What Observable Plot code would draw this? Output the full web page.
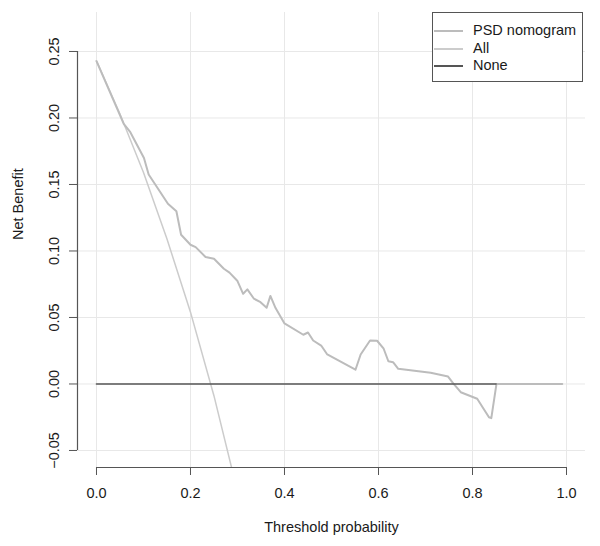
<!DOCTYPE html>
<html><head><meta charset="utf-8">
<script src="https://cdn.jsdelivr.net/npm/d3@7"></script>
<script src="https://cdn.jsdelivr.net/npm/@observablehq/plot@0.6"></script>
<style>
body{margin:0;background:#fff;}
#wrap{position:relative;width:600px;height:546px;font-family:"Liberation Sans",Arial,Helvetica,sans-serif;}
#legend{position:absolute;left:432px;top:12px;width:151px;height:70px;border:1px solid #555;box-sizing:border-box;background:#fff;font-size:14.5px;color:#1a1a1a;}
.lrow{position:absolute;left:0;height:17px;line-height:17px;white-space:nowrap;}
.lrow .sw{position:absolute;left:1px;top:8px;width:29px;height:0;border-top-style:solid;}
.lrow .lt{position:absolute;left:40px;top:0;}
</style></head><body><div id="wrap"></div>
<script>
// PSD nomogram net benefit curve
const psdX = [0, 0.058, 0.072, 0.101, 0.111, 0.152, 0.170, 0.180, 0.200, 0.211, 0.232, 0.250, 0.271, 0.283, 0.300, 0.312, 0.321, 0.335, 0.349, 0.362, 0.370, 0.381, 0.400, 0.440, 0.450, 0.461, 0.478, 0.491, 0.551, 0.562, 0.582, 0.597, 0.611, 0.621, 0.631, 0.642, 0.711, 0.748, 0.759, 0.775, 0.810, 0.835, 0.840, 0.851, 0.991];
const psdY = [0.2427, 0.1956, 0.1893, 0.1699, 0.1575, 0.1355, 0.1299, 0.1122, 0.1047, 0.1029, 0.0955, 0.0941, 0.0866, 0.0837, 0.0774, 0.0678, 0.0711, 0.0641, 0.0615, 0.0573, 0.0662, 0.0571, 0.0455, 0.0370, 0.0387, 0.0327, 0.0289, 0.0222, 0.0107, 0.0222, 0.0327, 0.0325, 0.0265, 0.0171, 0.0164, 0.0114, 0.0084, 0.0056, 0.0004, -0.0062, -0.0111, -0.0250, -0.0257, 0, 0];
// Treat-all curve
const allX = [0, 0.05, 0.10, 0.15, 0.20, 0.25, 0.30];
const allY = [0.243, 0.203, 0.159, 0.109, 0.054, -0.009, -0.081];
// Treat-none line
const noneX = [0, 0.85];
const noneY = [0, 0];

const seriesNames = ["PSD nomogram", "All", "None"];
const seriesColors = ["#bcbcbc", "#cccccc", "#555555"];
const xTicks = [0, 0.2, 0.4, 0.6, 0.8, 1.0];
const yTicks = [-0.05, 0, 0.05, 0.10, 0.15, 0.20, 0.25];

const psd = psdX.map((x, i) => ({x, y: psdY[i]}));
const all = allX.map((x, i) => ({x, y: allY[i]}));
const none = noneX.map((x, i) => ({x, y: noneY[i]}));

const xDom = [-0.0404, 1.0404];
const yDom = [-0.0628, 0.2793];
const font = '"Liberation Sans", Arial, Helvetica, sans-serif';

const chart = Plot.plot({
  width: 600, height: 546,
  marginLeft: 77, marginRight: 15, marginTop: 12, marginBottom: 79,
  style: {fontFamily: font, fontSize: "14.5px", background: "#fff", color: "#1a1a1a"},
  x: {domain: xDom},
  y: {domain: yDom},
  marks: [
    Plot.gridX(xTicks, {stroke: "#e8e8e8", strokeOpacity: 1, strokeWidth: 1}),
    Plot.gridY(yTicks, {stroke: "#e8e8e8", strokeOpacity: 1, strokeWidth: 1}),
    Plot.line(all, {x: "x", y: "y", stroke: seriesColors[1], strokeWidth: 1.5, clip: true}),
    Plot.line(psd, {x: "x", y: "y", stroke: seriesColors[0], strokeWidth: 2, clip: true}),
    Plot.line(none, {x: "x", y: "y", stroke: seriesColors[2], strokeWidth: 1.6}),
    Plot.axisX(xTicks, {anchor: "bottom", tickSize: 8, tickPadding: 12, tickFormat: d3.format(".1f"), label: null, stroke: "#555", fill: "#1a1a1a", fontSize: 14.5}),
    Plot.ruleY([yDom[0]], {x1: xTicks[0], x2: xTicks[xTicks.length - 1], stroke: "#555", strokeWidth: 1.2}),
    Plot.axisY(yTicks, {anchor: "left", tickSize: 8, tickPadding: 11, tickRotate: -90, tickFormat: d3.format(".2f"), label: null, stroke: "#555", fill: "#1a1a1a", fontSize: 14.5}),
    Plot.ruleX([xDom[0]], {y1: yTicks[0], y2: yTicks[yTicks.length - 1], stroke: "#555", strokeWidth: 1.2}),
    Plot.text(["Threshold probability"], {frameAnchor: "bottom", dy: 64, fontSize: 14.5, fill: "#1a1a1a"}),
    Plot.text(["Net Benefit"], {frameAnchor: "left", dx: -59, rotate: -90, fontSize: 14.5, fill: "#1a1a1a"})
  ]
});

const wrap = document.getElementById("wrap");
wrap.appendChild(chart);

const legend = document.createElement("div");
legend.id = "legend";
seriesNames.forEach((name, i) => {
  const row = document.createElement("div");
  row.className = "lrow";
  row.style.top = (9 + i * 17.5) + "px";
  const sw = document.createElement("span");
  sw.className = "sw";
  sw.style.borderTopColor = seriesColors[i];
  sw.style.borderTopWidth = "2px";
  const lt = document.createElement("span");
  lt.className = "lt";
  lt.textContent = name;
  row.appendChild(sw); row.appendChild(lt);
  legend.appendChild(row);
});
wrap.appendChild(legend);
</script>
</body></html>
